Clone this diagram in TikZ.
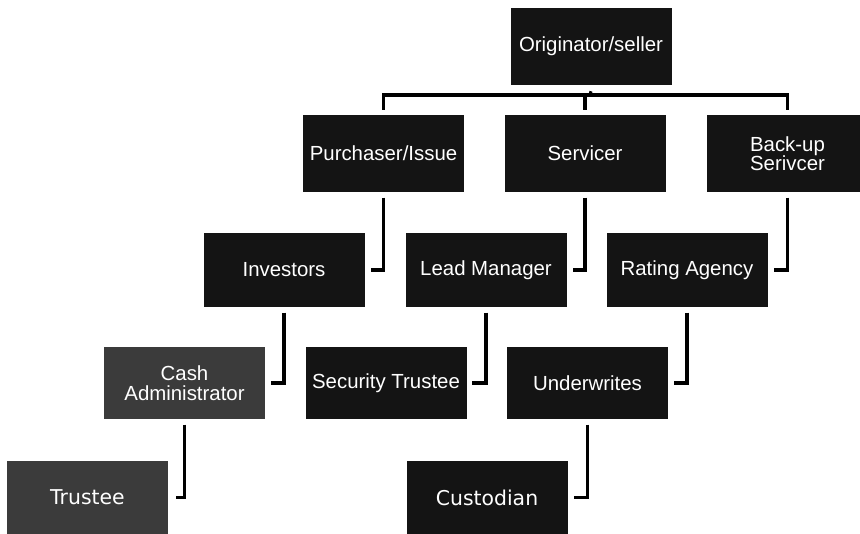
\documentclass[tikz,border=0pt]{standalone}
\usepackage{fontspec}
\setmainfont{Liberation Sans}
\newfontfamily\humfont{DejaVu Sans}
\usetikzlibrary{positioning}
\definecolor{boxdark}{gray}{0.08}
\definecolor{boxgray}{gray}{0.23}
\tikzset{
  box/.style={fill=boxdark,text=white,minimum width=120.75pt,minimum height=55.5pt,
    align=center,inner sep=2pt,font=\fontsize{15.3}{14.6}\selectfont},
  greybox/.style={box,fill=boxgray},
  link/.style={line width=2.3pt,line join=miter}
}

\begin{document}
\begin{tikzpicture}[x=0.75pt,y=-0.75pt]
\clip (0,0) rectangle (860,533);
\node[box,minimum height=57.75pt] (orig) at (591,46.5) {Originator/seller};
\node[box,minimum height=57.75pt] (purch) at (383.5,153.5) {Purchaser/Issue};
\node[box,minimum height=57.75pt] (serv) at (585,153.5) {Servicer};
\node[box,minimum height=57.75pt] (backup) at (787.5,153.5) {Back-up\\Serivcer};
\node[box] (inv) at (284,270) {Investors};
\node[box] (lead) at (486,270) {Lead Manager};
\node[box] (rating) at (687,270) {Rating Agency};
\node[greybox,minimum height=54pt] (cash) at (184.5,383) {Cash\\Administrator};
\node[box,minimum height=54pt] (sectrust) at (386,383) {Security Trustee};
\node[box,minimum height=54pt] (under) at (587.5,383) {Underwrites};
\node[greybox,font=\humfont\fontsize{15.3}{14.6}\selectfont] (trustee) at (87.5,497.5) {Trustee};
\node[box,font=\humfont\fontsize{15.3}{14.6}\selectfont] (cust) at (487,497.5) {Custodian};

\coordinate (bar) at (590,95);
\draw[link] ([yshift=3.75pt]purch.north) |- (bar) -| ([yshift=3.75pt]backup.north);
\draw[link] (bar) -- ([yshift=-4.5pt]orig.south);
\draw[link] ([yshift=3.75pt]serv.north) -- (serv.north |- bar);

\draw[link] ([yshift=-4pt]purch.south) |- ([xshift=5pt]inv.east);
\draw[link] ([yshift=-4pt]serv.south) |- ([xshift=5pt]lead.east);
\draw[link] ([yshift=-4pt]backup.south) |- ([xshift=5pt]rating.east);
\draw[link] ([yshift=-4pt]inv.south) |- ([xshift=4pt]cash.east);
\draw[link] ([yshift=-4pt]lead.south) |- ([xshift=4pt]sectrust.east);
\draw[link] ([yshift=-4pt]rating.south) |- ([xshift=4pt]under.east);
\draw[link] ([yshift=-4pt]cash.south) |- ([xshift=6pt]trustee.east);
\draw[link] ([yshift=-4pt]under.south) |- ([xshift=5pt]cust.east);
\end{tikzpicture}
\end{document}
